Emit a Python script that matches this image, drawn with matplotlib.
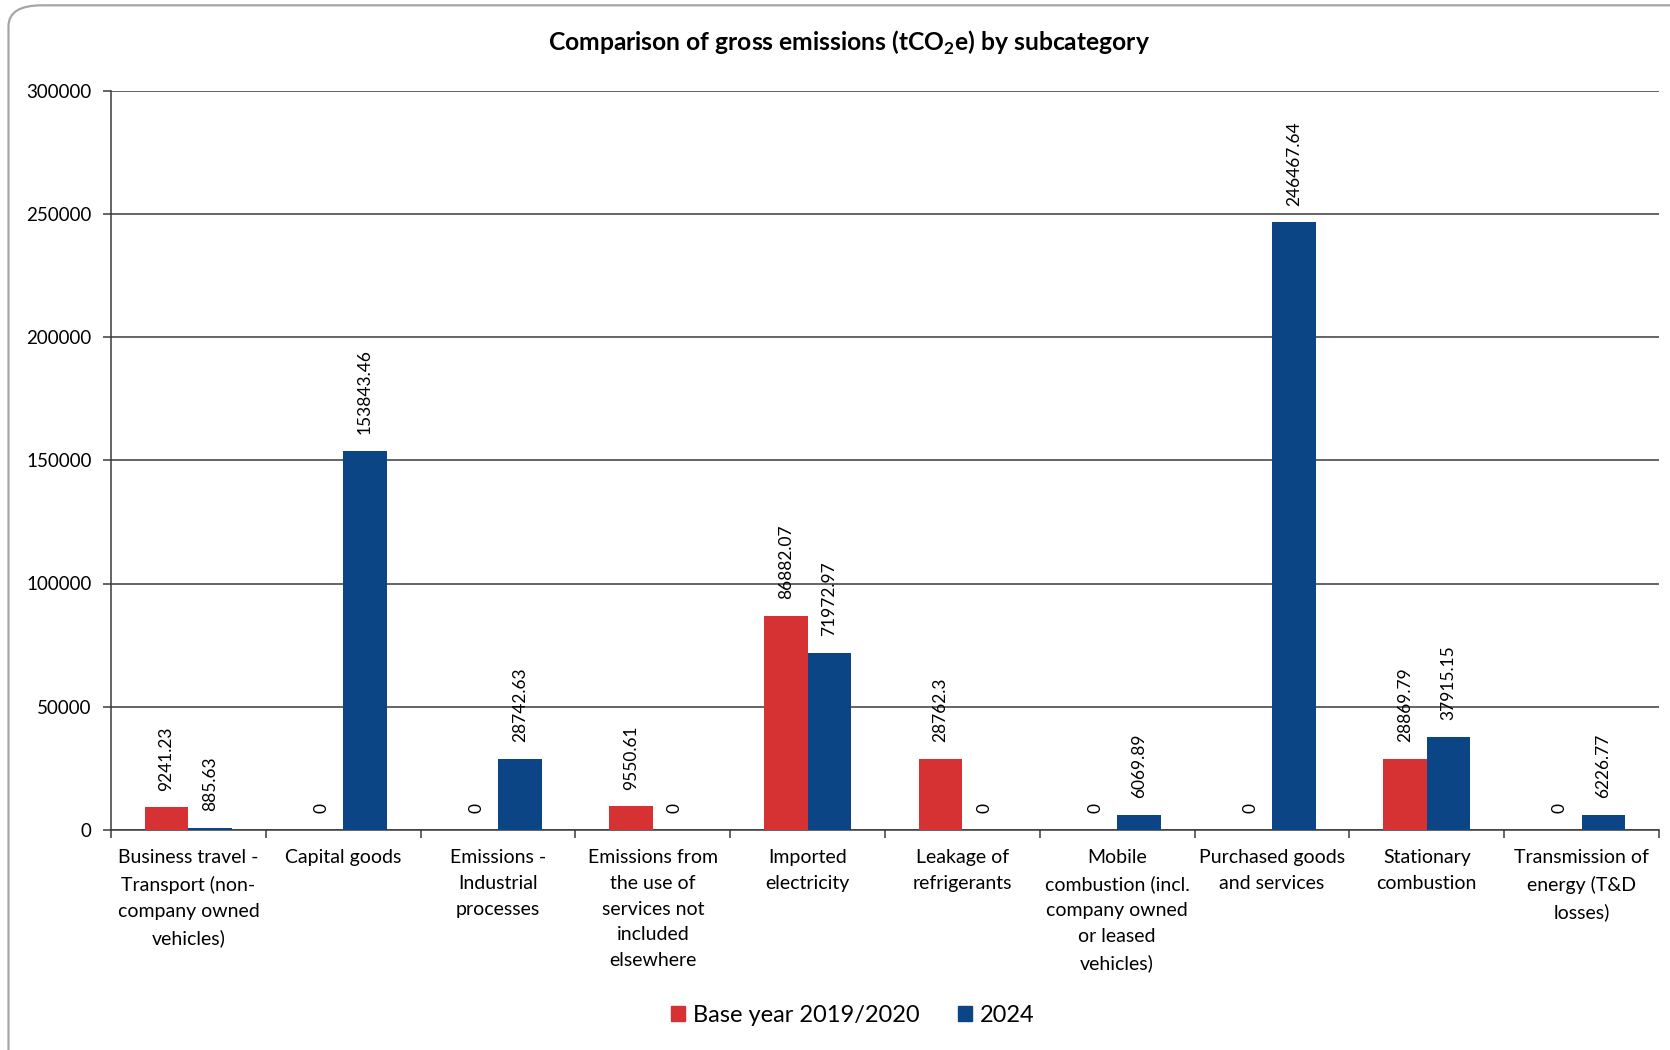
import matplotlib
matplotlib.use("Agg")
import matplotlib.pyplot as plt
import numpy as np
from matplotlib.patches import FancyBboxPatch, Patch

plt.rcParams['font.family'] = ['Lato', 'DejaVu Sans']
plt.rcParams['mathtext.fontset'] = 'custom'
plt.rcParams['mathtext.rm'] = 'Lato'
plt.rcParams['mathtext.bf'] = 'Lato:bold'

# Data
categories = [
    "Business travel -\nTransport (non-\ncompany owned\nvehicles)",
    "Capital goods",
    "Emissions -\nIndustrial\nprocesses",
    "Emissions from\nthe use of\nservices not\nincluded\nelsewhere",
    "Imported\nelectricity",
    "Leakage of\nrefrigerants",
    "Mobile\ncombustion (incl.\ncompany owned\nor leased\nvehicles)",
    "Purchased goods\nand services",
    "Stationary\ncombustion",
    "Transmission of\nenergy (T&D\nlosses)",
]
base_year = [9241.23, 0, 0, 9550.61, 86882.07, 28762.3, 0, 0, 28869.79, 0]
year_2024 = [885.63, 153843.46, 28742.63, 0, 71972.97, 0, 6069.89, 246467.64, 37915.15, 6226.77]
series_names = ["Base year 2019/2020", "2024"]
y_ticks = [0, 50000, 100000, 150000, 200000, 250000, 300000]

RED = '#D63233'
BLUE = '#0B4585'

W, H = 1670, 1050
fig = plt.figure(figsize=(W / 100, H / 100), dpi=100)

# rounded chart border
border = FancyBboxPatch((8.5 / W, -30 / H), (W + 40) / W, (H - 5.3 + 30) / H,
                        boxstyle="round,pad=0,rounding_size=0.02",
                        transform=fig.transFigure, facecolor='white',
                        edgecolor='#A6A6A6', linewidth=1.6, zorder=-1)
fig.patches.append(border)

ax = fig.add_axes([111 / W, 1 - 830 / H, (1659 - 111) / W, (830 - 90.5) / H])
ax.set_facecolor('none')

x = np.arange(len(categories))
bw = 0.282
bars1 = ax.bar(x - bw / 2, base_year, bw, color=RED, zorder=3)
bars2 = ax.bar(x + bw / 2, year_2024, bw, color=BLUE, zorder=3)


def fmt(v):
    return '0' if v == 0 else str(v)


for bars, vals in ((bars1, base_year), (bars2, year_2024)):
    for bar, v in zip(bars, vals):
        ax.annotate(fmt(v), xy=(bar.get_x() + bar.get_width() / 2, v),
                    xytext=(0, 12), textcoords='offset points',
                    rotation=90, ha='center', va='bottom', fontsize=12.5)

ax.set_xlim(-0.5, len(categories) - 0.5)
ax.set_ylim(0, 300000)
ax.set_yticks(y_ticks)
ax.set_yticklabels([str(t) for t in y_ticks])
ax.yaxis.grid(True, color='#3A3A3A', linewidth=1.1, zorder=0)
ax.set_axisbelow(True)

# category labels between boundary ticks
ax.set_xticks(np.arange(len(categories) + 1) - 0.5)
ax.set_xticklabels([])
ax.set_xticks(x, minor=True)
ax.set_xticklabels(categories, minor=True, fontsize=14, linespacing=1.62, va='top')
ax.tick_params(axis='x', which='minor', length=0, pad=14)
ax.tick_params(axis='x', which='major', length=6, width=1.1, color='#3A3A3A')
ax.tick_params(axis='y', length=6, width=1.1, color='#3A3A3A', pad=8, labelsize=13.5)

for s in ('top', 'right'):
    ax.spines[s].set_visible(False)
for s in ('left', 'bottom'):
    ax.spines[s].set_color('#3A3A3A')
    ax.spines[s].set_linewidth(1.1)

fig.text(849 / W, 1 - 42.6 / H,
         r"Comparison of gross emissions (tCO$_\mathbf{2}$e) by subcategory",
         ha='center', va='center', fontsize=17.7, fontweight='bold')

handles = [Patch(color=RED, label=series_names[0]), Patch(color=BLUE, label=series_names[1])]
fig.legend(handles=handles, loc='center', bbox_to_anchor=(853 / W, 1 - 1015 / H),
           ncol=2, frameon=False, fontsize=17, handlelength=0.6, handleheight=0.6,
           handletextpad=0.35, columnspacing=1.6)

fig.savefig('out.png', dpi=100)
